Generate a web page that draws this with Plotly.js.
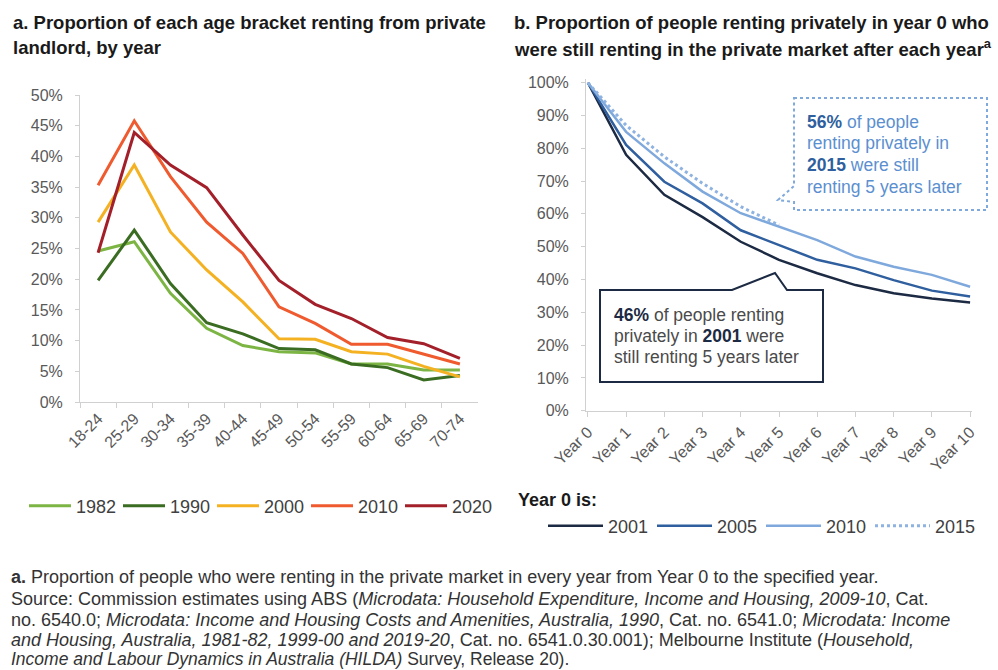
<!DOCTYPE html>
<html>
<head>
<meta charset="utf-8">
<script src="https://cdn.plot.ly/plotly-3.0.1.min.js"></script>
<style>html,body{margin:0;padding:0;background:#fff;}#chart{width:998px;height:670px;}</style>
</head>
<body>
<div id="chart"></div>
<script>
// ---- Data: panel a ----
const ageBrackets = ['18-24','25-29','30-34','35-39','40-44','45-49','50-54','55-59','60-64','65-69','70-74'];
const share1982 = [0.246,0.261,0.177,0.120,0.092,0.082,0.080,0.062,0.062,0.052,0.052];
const share1990 = [0.198,0.280,0.193,0.129,0.111,0.087,0.085,0.062,0.056,0.036,0.043];
const share2000 = [0.293,0.386,0.277,0.215,0.163,0.103,0.102,0.082,0.078,0.058,0.041];
const share2010 = [0.353,0.458,0.367,0.293,0.242,0.155,0.128,0.094,0.094,0.078,0.062];
const share2020 = [0.243,0.439,0.386,0.349,0.272,0.198,0.159,0.136,0.105,0.095,0.071];
const panelAYears = ['1982','1990','2000','2010','2020'];

// ---- Data: panel b ----
const yearsSince = ['Year 0','Year 1','Year 2','Year 3','Year 4','Year 5','Year 6','Year 7','Year 8','Year 9','Year 10'];
const still2001 = [1.00,0.780,0.658,0.590,0.515,0.460,0.419,0.383,0.358,0.342,0.330];
const still2005 = [1.00,0.810,0.698,0.632,0.550,0.505,0.460,0.434,0.398,0.366,0.348];
const still2010 = [1.00,0.850,0.754,0.668,0.602,0.560,0.520,0.470,0.439,0.414,0.378];
const still2015 = [1.00,0.870,0.774,0.693,0.622,0.566];
const panelBYears = ['2001','2005','2010','2015'];

const FONT = 'Liberation Sans, Arial, sans-serif';
const W = 998, H = 670;
const px = x => x / W;
const py = y => 1 - y / H;

const colA = ['#7cb543','#3a6d22','#f4b223','#ef5a2f','#a3202a'];
const seriesA = [share1982, share1990, share2000, share2010, share2020];
const traces = [];
seriesA.forEach((s, i) => {
  traces.push({
    type: 'scatter', mode: 'lines', x: ageBrackets, y: s, name: panelAYears[i],
    xaxis: 'x', yaxis: 'y', legend: 'legend',
    line: {color: colA[i], width: 3}, hoverinfo: 'skip'
  });
});
const colB = ['#1c2a43','#2f5f9e','#7fa9dc','#8fb3e1'];
const seriesB = [still2001, still2005, still2010, still2015];
seriesB.forEach((s, i) => {
  traces.push({
    type: 'scatter', mode: 'lines', x: yearsSince.slice(0, s.length), y: s, name: panelBYears[i],
    xaxis: 'x2', yaxis: 'y2', legend: 'legend2',
    line: {color: colB[i], width: i === 3 ? 3 : 2.5, dash: i === 3 ? 'dot' : 'solid'}, hoverinfo: 'skip'
  });
});

const axisGray = '#d0d0d0';
const tickFont = {family: FONT, size: 16, color: '#595959'};

function txt(x, y, text, size, color, extra) {
  return Object.assign({xref: 'paper', yref: 'paper', x: px(x), y: py(y), xanchor: 'left', yanchor: 'middle',
    showarrow: false, align: 'left', text: text, font: {family: FONT, size: size, color: color}}, extra || {});
}

const layout = {
  width: W, height: H,
  margin: {l: 0, r: 0, t: 0, b: 0, autoexpand: false},
  paper_bgcolor: '#fff', plot_bgcolor: '#fff',
  font: {family: FONT},
  showlegend: true,
  xaxis: {
    domain: [px(80), px(478)], anchor: 'y', type: 'category',
    range: [-0.5, 10.5], showgrid: false, zeroline: false,
    showline: true, linecolor: axisGray, linewidth: 1,
    ticks: 'outside', tickson: 'boundaries', ticklen: 5, tickcolor: axisGray,
    tickangle: -45, tickfont: tickFont, automargin: false
  },
  yaxis: {
    domain: [py(402), py(95)], anchor: 'x',
    range: [0, 0.5], dtick: 0.05, tickformat: '.0%',
    showgrid: false, zeroline: false,
    showline: true, linecolor: axisGray, linewidth: 1,
    ticks: 'outside', ticklen: 4, tickcolor: axisGray, tickfont: tickFont,
    ticklabelstandoff: 9, automargin: false
  },
  xaxis2: {
    domain: [px(586), px(972)], anchor: 'y2', type: 'category',
    range: [-0.05, 10.05], showgrid: false, zeroline: false,
    showline: true, linecolor: axisGray, linewidth: 1,
    ticks: 'outside', ticklen: 5, tickcolor: axisGray,
    tickangle: -45, tickfont: tickFont, automargin: false
  },
  yaxis2: {
    domain: [py(410.7), py(79.4)], anchor: 'x2',
    range: [0, 1.01], dtick: 0.1, tickformat: '.0%',
    showgrid: false, zeroline: false,
    showline: true, linecolor: axisGray, linewidth: 1,
    ticks: 'outside', ticklen: 4, tickcolor: axisGray, tickfont: tickFont,
    ticklabelstandoff: 9, automargin: false
  },
  legend: {
    orientation: 'h', x: px(24), y: py(506), xanchor: 'left', yanchor: 'middle',
    font: {family: FONT, size: 18, color: '#404040'},
    itemwidth: 42, entrywidth: 37, tracegroupgap: 0, bgcolor: 'rgba(0,0,0,0)'
  },
  legend2: {
    orientation: 'h', x: px(543), y: py(526), xanchor: 'left', yanchor: 'middle',
    font: {family: FONT, size: 18, color: '#404040'},
    itemwidth: 55, entrywidth: 39, tracegroupgap: 0, bgcolor: 'rgba(0,0,0,0)'
  },
  shapes: [
    // callout for 2001
    {type: 'path', xref: 'paper', yref: 'paper',
     path: `M ${px(600)} ${py(290)} L ${px(732)} ${py(290)} L ${px(775)} ${py(273)} L ${px(787)} ${py(290)} L ${px(823)} ${py(290)} L ${px(823)} ${py(382)} L ${px(600)} ${py(382)} Z`,
     line: {color: '#1c2a43', width: 2}, fillcolor: '#ffffff', layer: 'above'},
    // callout for 2015 (dotted)
    {type: 'path', xref: 'paper', yref: 'paper',
     path: `M ${px(794)} ${py(98)} L ${px(987)} ${py(98)} L ${px(987)} ${py(210)} L ${px(794)} ${py(210)} L ${px(794)} ${py(202)} L ${px(778)} ${py(200)} L ${px(794)} ${py(186)} Z`,
     line: {color: '#7fa9dc', width: 2, dash: 'dot'}, fillcolor: '#ffffff', layer: 'above'}
  ],
  annotations: [
    txt(11, 22, '<b>a. Proportion of each age bracket renting from private</b>', 18.5, '#1a1a1a'),
    txt(11, 48, '<b>landlord, by year</b>', 18.5, '#1a1a1a'),
    txt(512, 22, '<b>b. Proportion of people renting privately in year 0 who</b>', 18.5, '#1a1a1a'),
    txt(512, 48, '<b>were still renting in the private market after each year<sup>a</sup></b>', 18.5, '#1a1a1a'),
    txt(516, 500, '<b>Year 0 is:</b>', 18, '#1a1a1a'),
    // 2001 callout text
    txt(612, 315, '<b><span style="color:#1c2a43">46%</span></b> of people renting', 17.5, '#4a4a4a'),
    txt(612, 336, 'privately in <b><span style="color:#1c2a43">2001</span></b> were', 17.5, '#4a4a4a'),
    txt(612, 357, 'still renting 5 years later', 17.5, '#4a4a4a'),
    // 2015 callout text
    txt(805, 122, '<b><span style="color:#2f5f9e">56%</span></b> of people', 17.5, '#5b8fd0'),
    txt(805, 143.5, 'renting privately in', 17.5, '#5b8fd0'),
    txt(805, 165, '<b><span style="color:#2f5f9e">2015</span></b> were still', 17.5, '#5b8fd0'),
    txt(805, 186.5, 'renting 5 years later', 17.5, '#5b8fd0'),
    // footnotes
    txt(9, 577, '<b>a.</b> Proportion of people who were renting in the private market in every year from Year 0 to the specified year.', 18, '#333333'),
    txt(9, 598.5, 'Source: Commission estimates using ABS (<i>Microdata: Household Expenditure, Income and Housing, 2009-10</i>, Cat.', 18, '#333333'),
    txt(9, 619.5, 'no. 6540.0; <i>Microdata: Income and Housing Costs and Amenities, Australia, 1990</i>, Cat. no. 6541.0; <i>Microdata: Income</i>', 18, '#333333'),
    txt(9, 640, '<i>and Housing, Australia, 1981-82, 1999-00 and 2019-20</i>, Cat. no. 6541.0.30.001); Melbourne Institute (<i>Household,</i>', 18, '#333333'),
    txt(9, 659, '<i>Income and Labour Dynamics in Australia (HILDA)</i> Survey, Release 20).', 17.5, '#333333')
  ]
};

Plotly.newPlot('chart', traces, layout, {displayModeBar: false, staticPlot: true});
</script>
</body>
</html>
